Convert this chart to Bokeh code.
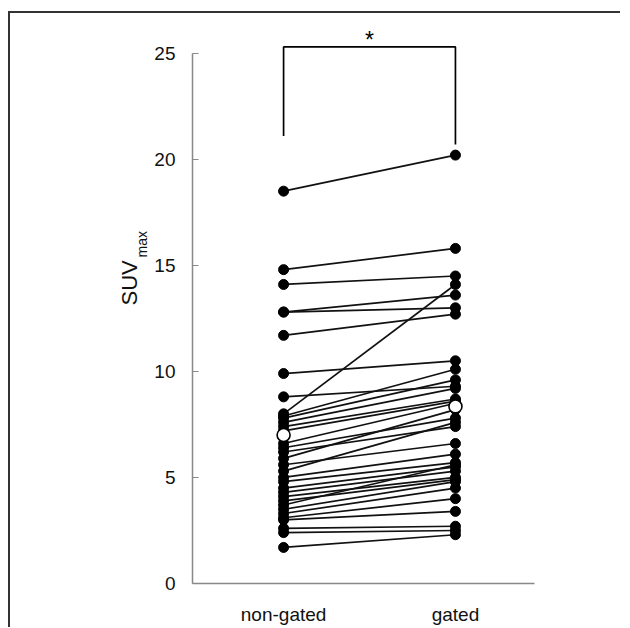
from bokeh.plotting import figure
from bokeh.models import FixedTicker, Range1d, Title
from bokeh.core.properties import value
from bokeh.embed import file_html
from bokeh.resources import INLINE

# ---- data ----
categories = ["non-gated", "gated"]
cat_pos = [1, 2]
non_gated = [18.5, 14.8, 14.1, 12.8, 12.8, 11.7, 9.9, 8.8, 8.0, 7.9, 7.8, 7.6,
             7.4, 7.2, 6.6, 6.4, 6.2, 5.9, 5.6, 5.3, 5.0, 4.8, 4.5, 4.3, 4.1,
             3.9, 3.7, 3.5, 3.3, 3.1, 3.0, 2.6, 2.4, 1.7]
gated = [20.2, 15.8, 14.5, 13.6, 13.0, 12.7, 10.5, 9.3, 14.1, 10.1, 9.6, 9.2,
         8.7, 8.6, 8.5, 7.8, 7.4, 8.2, 6.6, 7.6, 6.1, 5.7, 5.5, 5.3, 5.0,
         4.9, 5.6, 4.8, 4.5, 4.0, 3.4, 2.7, 2.5, 2.3]
means = [7.0, 8.35]
y_ticks = [0, 5, 10, 15, 20, 25]
bracket_y = [21.1, 25.3, 25.3, 20.7]
star_y = 25.62

FONT = "Liberation Sans"

p = figure(frame_width=342, frame_height=562,
           min_border_left=184, min_border_right=86,
           min_border_top=10, min_border_bottom=34,
           x_range=Range1d(0.47, 2.46), y_range=Range1d(0, 26.5),
           tools="", output_backend="svg", toolbar_location=None)
p.styles = {"box-shadow": "inset 2px 2px 0px 0px #333333",
            "margin-top": "11px", "margin-left": "8px"}
p.outline_line_color = None
p.grid.grid_line_color = None
p.background_fill_color = None
p.border_fill_color = None

# y axis
p.yaxis.ticker = FixedTicker(ticks=y_ticks)
p.yaxis.bounds = (0, 25)
p.yaxis.axis_line_color = "#888888"
p.yaxis.axis_line_width = 1.5
p.yaxis.major_tick_in = 6
p.yaxis.major_tick_out = 0
p.yaxis.major_tick_line_color = "#888888"
p.yaxis.minor_tick_line_color = None
p.yaxis.major_label_standoff = 17
p.yaxis.major_label_text_font = FONT
p.yaxis.major_label_text_font_size = "19px"
p.yaxis.major_label_text_color = "#111111"

# y-axis title "SUV" with subscript "max"
p.add_layout(Title(text="max", align="left", offset=326, standoff=3,
                   text_font=FONT, text_font_size="14px",
                   text_font_style="normal", text_color="#111111"), "left")
p.add_layout(Title(text="SUV", align="left", offset=278, standoff=-22,
                   text_font=FONT, text_font_size="22px",
                   text_font_style="normal", text_color="#111111"), "left")

# x axis
p.xaxis.ticker = FixedTicker(ticks=cat_pos)
p.xaxis.major_label_overrides = {cat_pos[i]: categories[i] for i in range(2)}
p.xaxis.axis_line_color = "#888888"
p.xaxis.axis_line_width = 1.5
p.xaxis.major_tick_line_color = None
p.xaxis.minor_tick_line_color = None
p.xaxis.major_label_standoff = 14
p.xaxis.major_label_text_font = FONT
p.xaxis.major_label_text_font_size = "19px"
p.xaxis.major_label_text_color = "#111111"

# paired lines
xs = [cat_pos for _ in non_gated]
ys = [[a, b] for a, b in zip(non_gated, gated)]
p.multi_line(xs, ys, line_color="#111111", line_width=1.7)

# points
p.scatter([cat_pos[0]] * len(non_gated), non_gated, size=10,
          fill_color="black", line_color="black")
p.scatter([cat_pos[1]] * len(gated), gated, size=10,
          fill_color="black", line_color="black")

# means
p.scatter(cat_pos, means, size=13, fill_color="white", line_color="black",
          line_width=1.6)

# significance bracket
p.line([cat_pos[0], cat_pos[0], cat_pos[1], cat_pos[1]], bracket_y,
       line_color="black", line_width=1.7)
p.text([1.5], [star_y], text=["*"], text_align="center", text_baseline="middle",
       text_font=value(FONT), text_font_size="23px", text_color="black")

open("out.html", "w").write(file_html(p, INLINE))
